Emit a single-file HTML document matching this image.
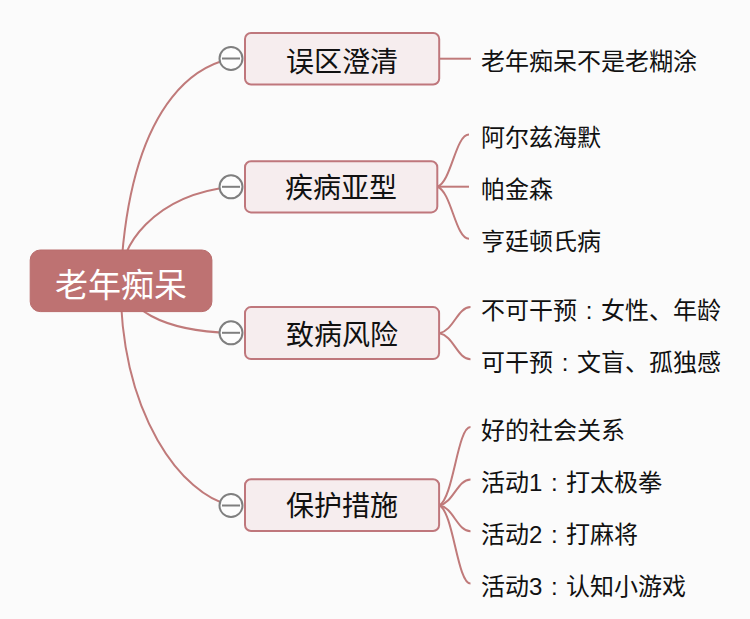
<!DOCTYPE html>
<html lang="zh-CN"><head><meta charset="utf-8"><style>
html,body{margin:0;padding:0;width:750px;height:619px;overflow:hidden;background:#fbfbfb;}
body{position:relative;font-family:"Liberation Sans",sans-serif;}
svg{position:absolute;left:0;top:0;}
.root{position:absolute;left:30px;top:250px;width:182px;height:62px;color:#fff;font-size:33px;line-height:62px;text-align:center;padding-top:5px;box-sizing:border-box;}
.box{position:absolute;color:#111;font-size:28px;line-height:28px;text-align:center;padding-top:5px;box-sizing:border-box;display:flex;align-items:center;justify-content:center;}
.c{display:inline-block;width:24px;text-align:center;}
.leaf{position:absolute;left:481px;height:32px;line-height:32px;font-size:24px;color:#111;white-space:nowrap;}
</style></head><body>
<svg width="750" height="619" viewBox="0 0 750 619">
<path d="M120.5,280.5 C130.4,72.2 221.9,61.4 231,58.5" fill="none" stroke="#c07a7a" stroke-width="2"/>
<path d="M120.5,280.5 C118.9,247.5 152.5,195.6 231,186.8" fill="none" stroke="#c07a7a" stroke-width="2"/>
<path d="M120.5,280.5 C128.5,307.3 157.8,330.9 231,332.9" fill="none" stroke="#c07a7a" stroke-width="2"/>
<path d="M120.5,280.5 C120.3,416.8 182.8,494.9 231,505.5" fill="none" stroke="#c07a7a" stroke-width="2"/>
<path d="M439,58.7 L471,58.7" fill="none" stroke="#c07a7a" stroke-width="2"/>
<path d="M437.5,186.7 C451.5,181.49 455.5,134.6 469,134.6" fill="none" stroke="#c07a7a" stroke-width="2"/>
<path d="M437.5,186.7 C451.5,191.91 455.5,238.8 469,238.8" fill="none" stroke="#c07a7a" stroke-width="2"/>
<path d="M437.5,186.7 L469,186.7" fill="none" stroke="#c07a7a" stroke-width="2"/>
<path d="M439.5,333.2 C453.5,330.59 457.5,307.1 470.5,307.1" fill="none" stroke="#c07a7a" stroke-width="2"/>
<path d="M439.5,333.2 C453.5,335.81 457.5,359.3 470.5,359.3" fill="none" stroke="#c07a7a" stroke-width="2"/>
<path d="M439.5,505.3 C453.5,497.47 457.5,427 470.5,427" fill="none" stroke="#c07a7a" stroke-width="2"/>
<path d="M439.5,505.3 C453.5,502.71 457.5,479.4 470.5,479.4" fill="none" stroke="#c07a7a" stroke-width="2"/>
<path d="M439.5,505.3 C453.5,507.90 457.5,531.3 470.5,531.3" fill="none" stroke="#c07a7a" stroke-width="2"/>
<path d="M439.5,505.3 C453.5,513.12 457.5,583.5 470.5,583.5" fill="none" stroke="#c07a7a" stroke-width="2"/>
<circle cx="231" cy="58.5" r="11.5" fill="#fdfdfd" stroke="#7f7f7f" stroke-width="2"/>
<line x1="222" y1="58.5" x2="240" y2="58.5" stroke="#7f7f7f" stroke-width="2"/>
<circle cx="231" cy="186.8" r="11.5" fill="#fdfdfd" stroke="#7f7f7f" stroke-width="2"/>
<line x1="222" y1="186.8" x2="240" y2="186.8" stroke="#7f7f7f" stroke-width="2"/>
<circle cx="231" cy="332.8" r="11.5" fill="#fdfdfd" stroke="#7f7f7f" stroke-width="2"/>
<line x1="222" y1="332.8" x2="240" y2="332.8" stroke="#7f7f7f" stroke-width="2"/>
<circle cx="231" cy="505.5" r="11.5" fill="#fdfdfd" stroke="#7f7f7f" stroke-width="2"/>
<line x1="222" y1="505.5" x2="240" y2="505.5" stroke="#7f7f7f" stroke-width="2"/>
<rect x="30.2" y="250" width="181.7" height="61.6" rx="10" fill="#be7272" stroke="#b96c6c" stroke-width="1"/>
<rect x="245" y="33" width="194.20" height="51.50" rx="6" fill="#f6edee" stroke="#bf777c" stroke-width="2"/>
<rect x="245" y="161.3" width="192.30" height="51.10" rx="6" fill="#f6edee" stroke="#bf777c" stroke-width="2"/>
<rect x="245" y="307.1" width="194.10" height="52.00" rx="6" fill="#f6edee" stroke="#bf777c" stroke-width="2"/>
<rect x="245" y="479.3" width="194.10" height="51.70" rx="6" fill="#f6edee" stroke="#bf777c" stroke-width="2"/>
</svg>
<div class="root">老年痴呆</div>
<div class="box" style="left:245px;top:33px;width:194.20px;height:51.50px;padding-top:8px">误区澄清</div>
<div class="box" style="left:245px;top:161.3px;width:192.30px;height:51.10px;padding-top:5px">疾病亚型</div>
<div class="box" style="left:245px;top:307.1px;width:194.10px;height:52.00px;padding-top:6px">致病风险</div>
<div class="box" style="left:245px;top:479.3px;width:194.10px;height:51.70px;padding-top:4px">保护措施</div>
<div class="leaf" style="top:46px">老年痴呆不是老糊涂</div>
<div class="leaf" style="top:122px">阿尔兹海默</div>
<div class="leaf" style="top:174px">帕金森</div>
<div class="leaf" style="top:226px">亨廷顿氏病</div>
<div class="leaf" style="top:295px">不可干预<span class="c">:</span>女性、年龄</div>
<div class="leaf" style="top:347px">可干预<span class="c">:</span>文盲、孤独感</div>
<div class="leaf" style="top:415px">好的社会关系</div>
<div class="leaf" style="top:467px">活动1<span class="c">:</span>打太极拳</div>
<div class="leaf" style="top:519px">活动2<span class="c">:</span>打麻将</div>
<div class="leaf" style="top:571px">活动3<span class="c">:</span>认知小游戏</div>
</body></html>
